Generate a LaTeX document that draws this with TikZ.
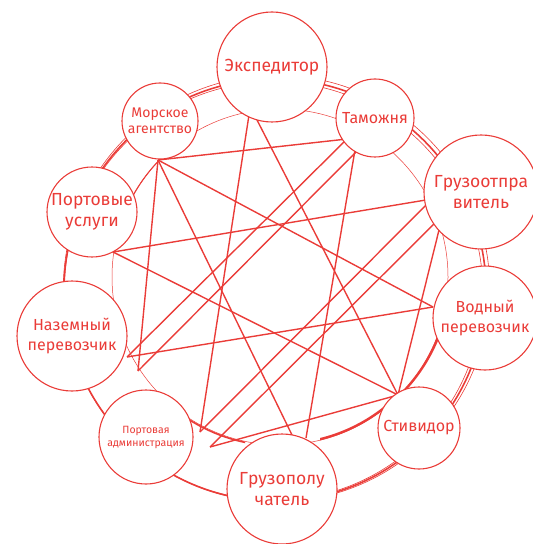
\documentclass[tikz,border=0pt]{standalone}
\usepackage{fontspec}
\setmainfont{Fira Sans}
\definecolor{rd}{RGB}{234,60,56}
\begin{document}
\begin{tikzpicture}[x=1bp,y=-1bp,
  ent/.style={circle, draw=rd, fill=white, line width=1.1pt, inner sep=0pt, text=rd, align=center},
  chord/.style={draw=rd, line width=1.4pt},
  ringthin/.style={draw=rd, line width=0.6pt},
  ringthick/.style={draw=rd, line width=1.6pt},
  fa/.style={font=\fontsize{17.5bp}{21bp}\selectfont},
  fb/.style={font=\fontsize{16bp}{20bp}\selectfont},
  fc/.style={font=\fontsize{14bp}{18.5bp}\selectfont},
  fd/.style={font=\fontsize{10.5bp}{13bp}\selectfont}]
\clip (0,0) rectangle (533,544);
% outer ring (hand drawn look: several strokes)
\draw[ringthick] (275,290) circle[radius=211bp];
\draw[ringthin] (276.5,288.5) circle[radius=213.2bp];
\draw[ringthin] (273.5,291) circle[radius=209.3bp];
% inner ring
\draw[ringthin, line width=0.5pt] (280,277) circle[radius=168bp];
\begin{scope}
  \clip (400,325) rectangle (465,400);
  \draw[ringthick, line width=2.4pt] (281,275) circle[radius=169bp];
\end{scope}
\begin{scope}
  \clip (320,405) rectangle (390,465);
  \draw[ringthick, line width=2.4pt] (280,276) circle[radius=168bp];
\end{scope}
\begin{scope}
  \clip (185,415) rectangle (245,465);
  \draw[ringthick] (280,276) circle[radius=170bp];
\end{scope}
\begin{scope}
  \clip (120,155) rectangle (165,205);
  \draw[ringthick, line width=1.1pt] (280,277) circle[radius=168bp];
\end{scope}
% anchor points of the chords
\coordinate (mor-a) at (158,160);
\coordinate (port-a) at (113,252);
\coordinate (eksp-a) at (249,115);
\coordinate (eksp-b) at (257,120);
\coordinate (tam-a) at (347,139);
\coordinate (tam-b) at (360,148);
\coordinate (tam-c) at (355,150);
\coordinate (gotp-a) at (432,199);
\coordinate (gotp-b) at (440,218);
\coordinate (gotp-c) at (441,222);
\coordinate (vod-a) at (433,307);
\coordinate (stiv-a) at (398,395);
\coordinate (gpol-a) at (292,435);
\coordinate (gpol-b) at (306,438);
\coordinate (padm-a) at (200,432);
\coordinate (padm-b) at (210,447);
\coordinate (naz-a) at (127,357);
\coordinate (naz-b) at (138,371);
% chords
\draw[chord] (mor-a) -- (tam-a);
\draw[chord] (mor-a) -- (gpol-a);
\draw[chord] (mor-a) -- (vod-a);
\draw[chord] (mor-a) -- (naz-b);
\draw[chord] (port-a) -- (gotp-a);
\draw[chord] (port-a) -- (stiv-a);
\draw[chord] (eksp-a) -- (padm-a);
\draw[chord] (eksp-b) -- (stiv-a);
\draw[chord] (tam-a) -- (naz-a);
\draw[chord] (tam-b) -- (naz-b);
\draw[chord] (tam-c) -- (gpol-b);
\draw[chord] (gotp-a) -- (padm-a);
\draw[chord] (gotp-b) -- (padm-b);
\draw[chord] (gotp-c) -- (stiv-a);
\draw[chord] (vod-a) -- (naz-a);
\draw[chord] (padm-b) -- (stiv-a);
% entities
\node[ent, fa, minimum size=110bp] (eksp) at (272,67) {Экспедитор};
\node[ent, fb, minimum size=78bp] (tam) at (375,118) {Таможня};
\node[ent, fc, minimum size=76bp] (mor) at (160,121) {Морское\\[-2bp]агентство};
\node[ent, fa, minimum size=90bp] (port) at (92,212) {Портовые\\услуги};
\node[ent, fa, minimum size=114bp] (gotp) at (481,192) {Грузоотпра\\витель};
\node[ent, fb, minimum size=104bp] (vod) at (485,318) {Водный\\перевозчик};
\node[ent, fb, minimum size=110bp] (naz) at (72,336) {Наземный\\перевозчик};
\node[ent, fd, minimum size=94bp] (padm) at (146,437) {Портовая\\администрация};
\node[ent, fa, minimum size=110bp] (gpol) at (282,489) {Грузополу\\чатель};
\node[ent, fb, minimum size=82bp] (stiv) at (419,428) {Стивидор};
\end{tikzpicture}
\end{document}
